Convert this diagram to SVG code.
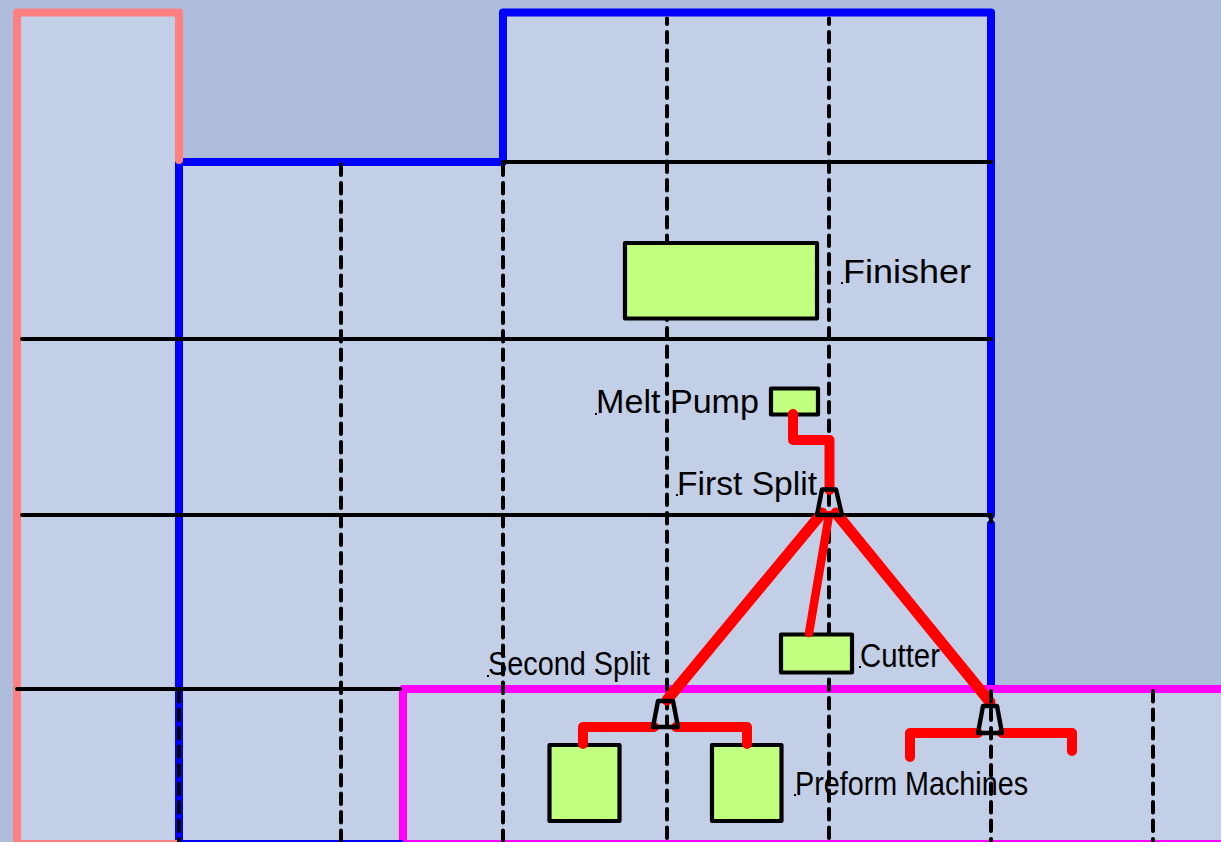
<svg xmlns="http://www.w3.org/2000/svg" width="1221" height="842" viewBox="0 0 1221 842">
<style>
.wall{fill:none;stroke-width:8;stroke-linecap:round;stroke-linejoin:round}
.edge{fill:none;stroke-width:4}
.grid{fill:none;stroke:#000;stroke-width:3.8;stroke-linecap:round}
.dash{fill:none;stroke:#000;stroke-width:4;stroke-linecap:round;stroke-dasharray:10.500 8}
.top{stroke-dashoffset:5}
.box{fill:#C0FF80;stroke:#000;stroke-width:4.200;stroke-linejoin:round}
.pipe{fill:none;stroke:#F00;stroke-width:10;stroke-linecap:round;stroke-linejoin:round}
.diag{stroke-width:11}
.thin{stroke-width:8.500}
.split{fill:none;stroke:#000;stroke-width:4.400;stroke-linejoin:round}
.lbl{font-family:"Liberation Sans",Arial,sans-serif;font-size:34px;fill:#000}
.dot{fill:#000}
</style>
<rect width="1221" height="842" fill="#ADBCDB"/>
<path d="M17 13H179V162H503V13H991V689H1221V842H17Z" fill="#C2CFE7"/>
<g id="walls">
<path class="wall" stroke="#00F" d="M179 842V162H503V12.500H991V515M991 524V689"/>
<path class="wall" stroke="#F0F" d="M403 842V689H1221"/>
<path class="wall" stroke="#FF8080" d="M17 842V12.500H179V160"/>
<path class="edge" stroke="#FF8080" d="M17 842H179"/>
<path class="edge" stroke="#00F" d="M179 842H403"/>
<path class="edge" stroke="#F0F" d="M403 842H1221"/>
</g>
<g id="grid-solid">
<path class="grid" d="M503 162H991M22 339H991M22 515H991V522M17 689H400"/>
</g>
<g id="grid-dashed">
<path class="dash" d="M341 164.500V842M503 164.500V842M179 691V842"/>
<path class="dash top" d="M667 18.500V842M829 18.500V842"/>
</g>
<g id="finisher"><rect class="box" x="625" y="243" width="192" height="75.500"/></g>
<g id="melt-pump"><rect class="box" x="771" y="388.500" width="47" height="26"/></g>
<g id="cutter"><rect class="box" x="781" y="634.500" width="71" height="38"/></g>
<g id="preform-1"><rect class="box" x="549.500" y="745" width="70" height="76"/></g>
<g id="preform-2"><rect class="box" x="712" y="745" width="69.500" height="76"/></g>
<g id="connectors">
<path class="pipe" d="M793 414V440H829.500V490"/>
<path class="pipe diag" d="M822 513L667 700"/>
<path class="pipe thin" d="M829 515L809 633"/>
<path class="pipe diag" d="M836 513L990 702"/>
<path class="pipe" d="M583 744V727H654M676 727H747V744"/>
<path class="pipe" d="M910 757V733H978M1002 733H1072V751"/>
</g>
<g id="grid-dashed-front">
<path class="dash" d="M991 691V842M1153 691V842"/>
</g>
<g id="first-split"><path class="split" d="M822 489.500H836L842 515H817Z"/></g>
<g id="second-split"><path class="split" d="M658 701H673L678 727H653Z"/></g>
<g id="third-split"><path class="split" d="M983 706H997L1002 733H978Z"/></g>
<g id="labels">
<text class="lbl" x="843" y="283" textLength="128" lengthAdjust="spacingAndGlyphs">Finisher</text>
<rect class="dot" x="841" y="282" width="2" height="2"/>
<text class="lbl" x="596" y="413" textLength="163" lengthAdjust="spacingAndGlyphs">Melt Pump</text>
<rect class="dot" x="595" y="413" width="2" height="2"/>
<text class="lbl" x="677" y="495" textLength="140" lengthAdjust="spacingAndGlyphs">First Split</text>
<rect class="dot" x="676" y="494" width="2" height="2"/>
<text class="lbl" x="488" y="675" textLength="162" lengthAdjust="spacingAndGlyphs">Second Split</text>
<rect class="dot" x="487" y="675" width="2" height="2"/>
<text class="lbl" x="860" y="667" textLength="80" lengthAdjust="spacingAndGlyphs">Cutter</text>
<rect class="dot" x="859" y="666" width="2" height="2"/>
<text class="lbl" x="795" y="795" textLength="233" lengthAdjust="spacingAndGlyphs">Preform Machines</text>
<rect class="dot" x="794" y="794" width="2" height="2"/>
</g>
</svg>
